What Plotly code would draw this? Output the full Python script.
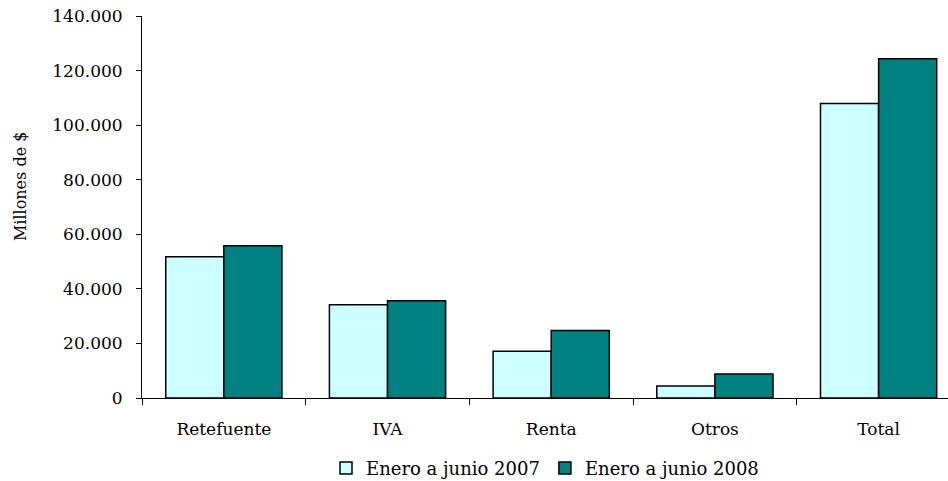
import plotly.graph_objects as go

categories = ["Retefuente", "IVA", "Renta", "Otros", "Total"]
series_2007 = [51800, 34200, 17100, 4400, 107900]
series_2008 = [55800, 35600, 24700, 8800, 124300]
name_2007 = "Enero a junio 2007"
name_2008 = "Enero a junio 2008"
y_title = "Millones de $"

font_family = "DejaVu Serif"

fig = go.Figure()
fig.add_trace(go.Bar(x=categories, y=series_2007, name=name_2007,
                     marker=dict(color="#CCFFFF", line=dict(color="black", width=1.5))))
fig.add_trace(go.Bar(x=categories, y=series_2008, name=name_2008,
                     marker=dict(color="#008080", line=dict(color="black", width=1.5))))

fig.update_layout(
    width=948, height=481,
    margin=dict(l=142, r=0, t=16, b=83, autoexpand=False),
    paper_bgcolor="white", plot_bgcolor="white",
    barmode="group", bargap=0.29, bargroupgap=0,
    separators=",.",
    font=dict(family=font_family, size=17, color="black"),
    showlegend=True,
    legend=dict(orientation="h", x=0.5, xref="paper", xanchor="center",
                y=-0.184, yanchor="middle", font=dict(size=18),
                itemwidth=30, tracegroupgap=0, bgcolor="rgba(0,0,0,0)"),
    annotations=[dict(text=y_title, textangle=-90, xref="paper", yref="paper",
                      x=-0.151, y=0.553, xanchor="center", yanchor="middle",
                      showarrow=False, font=dict(size=16))],
)
fig.update_xaxes(
    range=[-0.5, 4.424], showline=True, linecolor="black", linewidth=1,
    ticks="outside", tickson="boundaries", ticklen=6, tickcolor="black",
    showgrid=False, tickfont=dict(size=17), ticklabelstandoff=16, automargin=False,
)
fig.update_yaxes(
    range=[0, 140000.5], dtick=20000, tickformat=",d",
    showline=True, linecolor="black", linewidth=1,
    ticks="outside", ticklen=5, tickcolor="black", showgrid=False, zeroline=False,
    tickfont=dict(size=17), ticklabelstandoff=10, automargin=False,
    ticklabeloverflow="allow",
)
fig.write_html("out.html", config={"displayModeBar": False},
               post_script="document.body.style.margin='0';")
